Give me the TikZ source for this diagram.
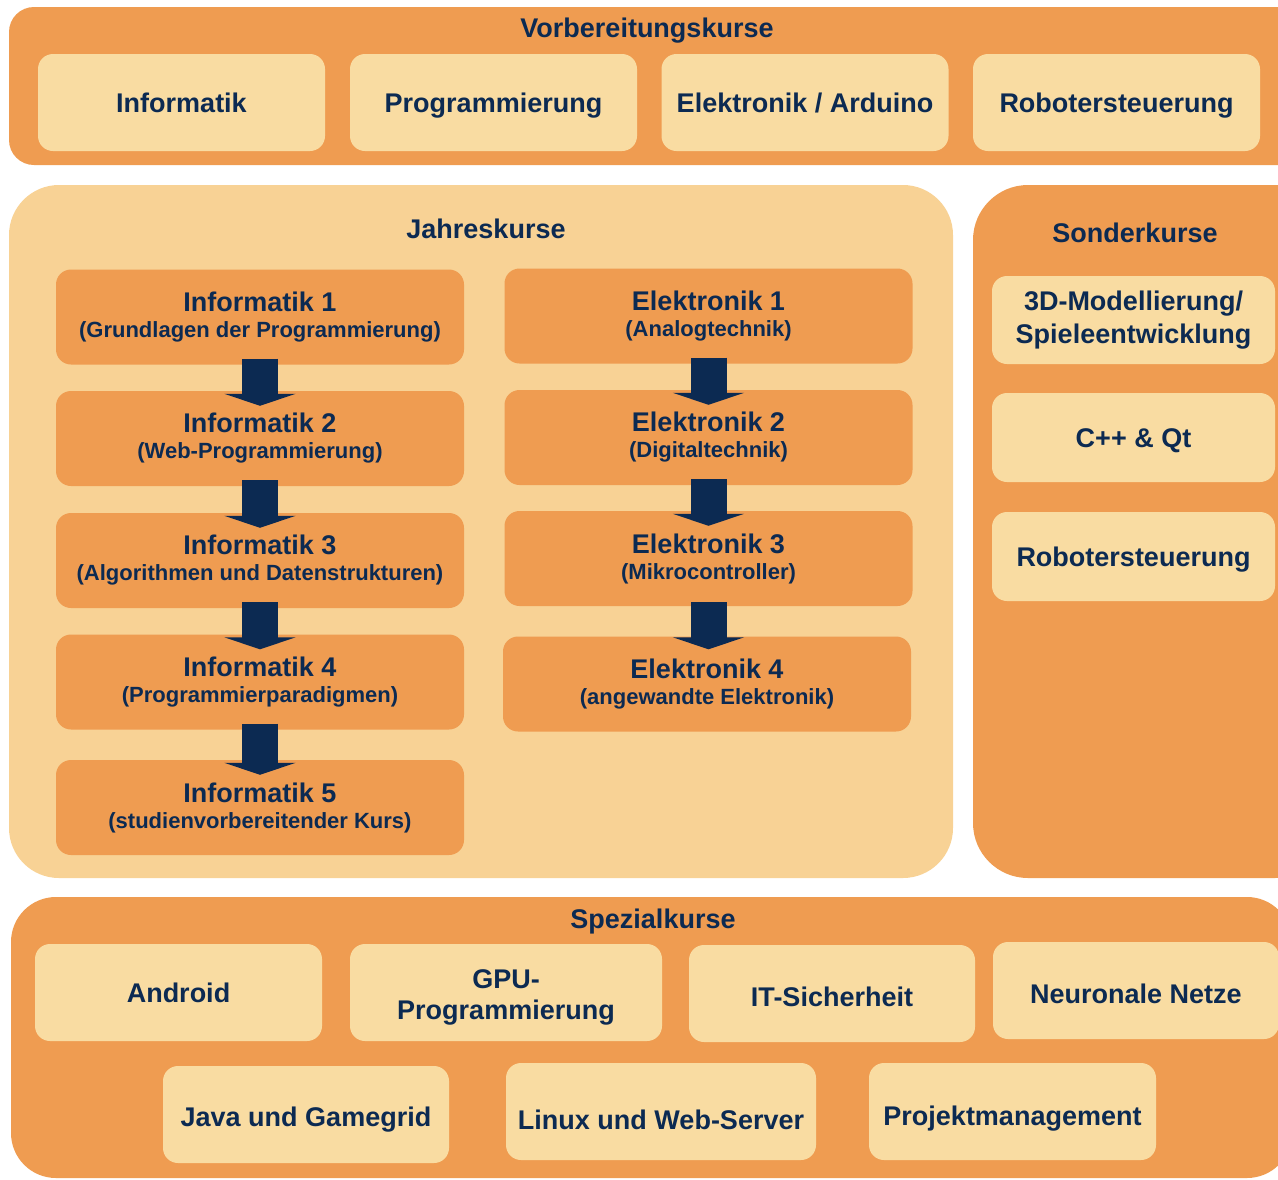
\documentclass[tikz,border=0pt]{standalone}
\usepackage{fontspec}
\setmainfont{Liberation Sans}
\usetikzlibrary{arrows.meta}
\definecolor{kursorange}{HTML}{EF9C51}
\definecolor{kurshell}{HTML}{F9DCA2}
\definecolor{jahrbg}{HTML}{F8D295}
\definecolor{kursblau}{HTML}{0C2A52}
\tikzset{
  titel/.style={text=kursblau, font=\bfseries\fontsize{27}{32}\selectfont,
    text height=24pt, text depth=5pt},
  kurs/.style={fill=kurshell, rounded corners=15pt, text=kursblau, align=center,
    inner sep=0pt, minimum height=97pt, font=\bfseries\fontsize{27}{32}\selectfont,
    text height=24pt, text depth=5pt},
  tiefer/.style={text height=#1},
  jkurs/.style={fill=kursorange, rounded corners=15pt, text=kursblau, align=center,
    inner sep=0pt, minimum width=408pt, minimum height=95pt,
    font=\bfseries\fontsize{27}{26}\selectfont},
  skurs/.style={kurs, minimum width=283pt, minimum height=89pt},
  folge/.style={draw=kursblau, line width=36pt, -{Triangle[width=71pt,length=12pt]},
    shorten <=-6pt, shorten >=-15pt}
}
\newcommand{\unter}[1]{{\fontsize{22}{26}\selectfont #1}}
\begin{document}
\begin{tikzpicture}[x=1pt,y=-1pt]
\useasboundingbox (0,0) rectangle (1278,1179);
\clip (0,0) rectangle (1278,1179);
% Flaechen
\fill[kursorange, rounded corners=25pt] (9,7) rectangle (1310,165);
\fill[jahrbg, rounded corners=50pt] (9,185) rectangle (953,878);
\fill[kursorange, rounded corners=55pt] (973,185) rectangle (1330,878);
\fill[kursorange, rounded corners=45pt] (11,897) rectangle (1292,1178);
%
\node[titel] (vorb) at (647,28) {Vorbereitungskurse};
\node[kurs, minimum width=287pt] (vinf) at (181.5,102.5) {Informatik};
\node[kurs, minimum width=287pt] (vprog) at (493.5,102.5) {Programmierung};
\node[kurs, minimum width=287pt] (velek) at (805,102.5) {Elektronik / Arduino};
\node[kurs, minimum width=287pt] (vrob) at (1116.5,102.5) {Robotersteuerung};
%
\node[titel] (jahr) at (486,229) {Jahreskurse};
\node[jkurs] (inf1) at (260,317) {Informatik 1\\\unter{(Grundlagen der Programmierung)}};
\node[jkurs] (inf2) at (260,438.5) {Informatik 2\\\unter{(Web-Programmierung)}};
\node[jkurs] (inf3) at (260,560.5) {Informatik 3\\\unter{(Algorithmen und Datenstrukturen)}};
\node[jkurs] (inf4) at (260,682) {Informatik 4\\\unter{(Programmierparadigmen)}};
\node[jkurs] (inf5) at (260,807.5) {Informatik 5\\\unter{(studienvorbereitender Kurs)}};
\node[jkurs] (ele1) at (708.5,316) {Elektronik 1\\\unter{(Analogtechnik)}};
\node[jkurs] (ele2) at (708.5,437.5) {Elektronik 2\\\unter{(Digitaltechnik)}};
\node[jkurs] (ele3) at (708.5,558.5) {Elektronik 3\\\unter{(Mikrocontroller)}};
\node[jkurs] (ele4) at (707,684) {Elektronik 4\\\unter{(angewandte Elektronik)}};
\draw[folge] (inf1.south) -- (inf2.north);
\draw[folge] (inf2.south) -- (inf3.north);
\draw[folge] (inf3.south) -- (inf4.north);
\draw[folge] (inf4.south) -- (inf5.north);
\draw[folge] (ele1.south) -- (ele2.north);
\draw[folge] (ele2.south) -- (ele3.north);
\draw[folge, shorten <=-4pt, shorten >=-13pt] (ele3.south) -- (ele3.south |- ele4.north);
%
\node[titel] (sond) at (1135,233) {Sonderkurse};
\node[skurs, minimum height=88pt, text height=, text depth=, font=\bfseries\fontsize{27}{33}\selectfont] (s3d) at (1133.5,320) {3D-Modellierung/\\Spieleentwicklung};
\node[skurs] (scpp) at (1133.5,437.5) {C++ \& Qt};
\node[skurs] (srob) at (1133.5,556.5) {Robotersteuerung};
%
\node[titel] (spez) at (653,919) {Spezialkurse};
\node[kurs, minimum width=287pt] (andr) at (178.5,992.5) {Android};
\node[kurs, minimum width=312pt, text height=, text depth=, font=\bfseries\fontsize{27}{31}\selectfont] (gpu) at (506,992.5) {\rule{0pt}{28pt}GPU-\\Programmierung};
\node[kurs, minimum width=286pt, tiefer=31pt] (itsi) at (832,993.5) {IT-Sicherheit};
\node[kurs, minimum width=286pt, tiefer=31pt] (neur) at (1136,990.5) {Neuronale Netze};
\node[kurs, minimum width=286pt, tiefer=29pt] (java) at (306,1114.5) {Java und Gamegrid};
\node[kurs, minimum width=310pt, tiefer=40pt] (linx) at (661,1111.5) {Linux und Web-Server};
\node[kurs, minimum width=287pt, tiefer=33pt] (proj) at (1012.5,1111.5) {Projektmanagement};
\end{tikzpicture}
\end{document}
